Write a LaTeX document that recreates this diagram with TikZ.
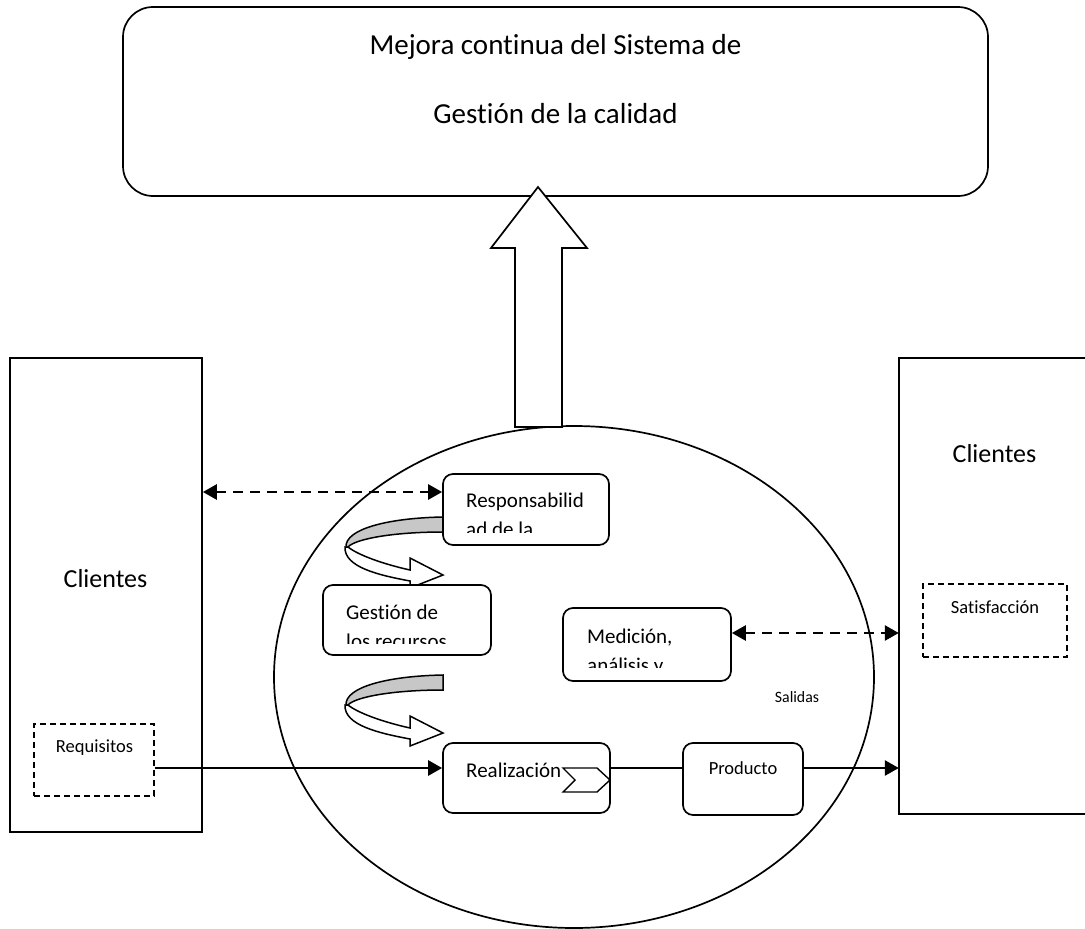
\documentclass[tikz,border=0pt]{standalone}
\usepackage{fontspec}
\setmainfont{Carlito}[Ligatures=NoCommon]
\usetikzlibrary{arrows.meta,shapes.geometric,calc}
\begin{document}
\begin{tikzpicture}[x=1pt,y=-1pt,
  frame/.style={draw, line width=1.7pt, fill=white, inner sep=0pt},
  rbox/.style={frame, rounded corners=10pt},
  dbox/.style={draw, line width=1.7pt, dash pattern=on 6pt off 4pt, inner sep=0pt},
  lbl/.style={inner sep=0pt, anchor=base},
  lblw/.style={inner sep=0pt, anchor=base west},
  bigtext/.style={font=\fontsize{29}{35}\selectfont},
  midtext/.style={font=\fontsize{26}{31}\selectfont},
  boxtext/.style={font=\fontsize{21}{25}\selectfont},
  smalltext/.style={font=\fontsize{18.5}{22}\selectfont},
  tinytext/.style={font=\fontsize{15.8}{19}\selectfont},
  dconn/.style={line width=2.6pt, dash pattern=on 10pt off 7pt, {Triangle[length=14pt,width=15pt]}-{Triangle[length=14pt,width=15pt]}},
  sconn/.style={line width=2.6pt, -{Triangle[length=14pt,width=15pt]}},
  uturn/.pic={
    % back of the ribbon (grey) and front with the arrow head (white)
    \draw[line width=1.5pt, fill=black!22]
      (0,0) .. controls (-55,1) and (-98,12) .. (-97,30) -- (-95,30)
      .. controls (-88,22) and (-50,15) .. (0,15) -- cycle;
    \draw[line width=1.5pt, fill=white, line join=miter]
      (-95,30) .. controls (-85,38) and (-60,47) .. (-33,53) -- (-33,41)
      -- (0,58) -- (-33,71) -- (-33,64)
      .. controls (-65,58) and (-99,50) .. (-98,30) -- cycle;
  }
]
\useasboundingbox (0,0) rectangle (1085,929);

% process ellipse
\node[ellipse, draw, line width=1.7pt, minimum width=600pt, minimum height=502pt, inner sep=0pt] (proc) at (574,677) {};

% improvement box
\node[frame, rounded corners=30pt, minimum width=865pt, minimum height=189pt] (mejora) at (555.5,101.5) {};
\node[lbl, bigtext] (mejora1) at (555.5,54) {Mejora continua del Sistema de};
\node[lbl, bigtext] (mejora2) at (555.5,123) {Gestión de la calidad};

% upward block arrow
\draw[line width=1.7pt, fill=white, line join=miter]
  (515,427) -- (515,248) -- (491,248) -- (538,187) -- (587,248) -- (562,248) -- (562,427) -- cycle;

% customers (input side)
\node[frame, minimum width=192pt, minimum height=474pt] (cliL) at (106,595) {};
\node[lbl, midtext] (cliLt) at (105.5,587) {Clientes};
\node[dbox, minimum width=120pt, minimum height=72pt] (req) at (94,760) {};
\node[lbl, smalltext] (reqt) at (94.5,752) {Requisitos};

% customers (output side), open to the right
\node[inner sep=0pt, minimum width=191pt, minimum height=456pt] (cliR) at (994.5,586) {};
\draw[line width=1.7pt] (cliR.north east) -- (cliR.north west) -- (cliR.south west) -- (cliR.south east);
\node[lbl, midtext] (cliRt) at (994.5,462) {Clientes};
\node[dbox, minimum width=144pt, minimum height=73pt] (sat) at (995,620.5) {};
\node[lbl, smalltext] (satt) at (995,613) {Satisfacción};

% ribbon arrows
\pic at (443,517) {uturn};
\pic at (443,675) {uturn};

% process boxes
\node[rbox, minimum width=166pt, minimum height=71pt] (resp) at (526,509.5) {};
\begin{scope}
  \clip (443,474) rectangle (609,532.5);
  \node[lblw, boxtext] (resp1) at (466,507) {Responsabilid};
  \node[lblw, boxtext] (resp2) at (466,536) {ad de la};
\end{scope}

\node[rbox, minimum width=168pt, minimum height=70pt] (gest) at (407,620) {};
\begin{scope}
  \clip (323,585) rectangle (491,643.5);
  \node[lblw, boxtext] (gest1) at (346,619) {Gestión de};
  \node[lblw, boxtext] (gest2) at (346,648) {los recursos};
\end{scope}

\node[rbox, minimum width=168pt, minimum height=73pt] (med) at (647,644.5) {};
\begin{scope}
  \clip (563,608) rectangle (731,667);
  \node[lblw, boxtext] (med1) at (587,643) {Medición,};
  \node[lblw, boxtext] (med2) at (587,672.5) {análisis y};
\end{scope}

\node[rbox, minimum width=167pt, minimum height=70pt] (real) at (526.5,778) {};
\node[lblw, boxtext] (realt) at (466,777) {Realización};
\draw[line width=1.4pt, fill=white, line join=miter]
  (563,768) -- (597,768) -- (610,780) -- (597,792) -- (563,792) -- (575,780) -- cycle;

\node[rbox, minimum width=120pt, minimum height=72pt] (prod) at (743,779) {};
\node[lbl, smalltext] (prodt) at (743,774) {Producto};

\node[lbl, tinytext] (sal) at (797,702) {Salidas};

% connectors
\coordinate (d1) at ($(resp.west)+(0,-17.5)$);
\draw[dconn] (cliL.east |- d1) -- (d1);
\coordinate (d2) at ($(med.east)+(0,-11.5)$);
\draw[dconn] (d2) -- (cliR.west |- d2);

\coordinate (s1) at ($(req.east)+(0,8)$);
\draw[sconn] (s1) -- (real.west |- s1);
\draw[line width=1.2pt] (real.east |- s1) -- (prod.west |- s1);
\draw[sconn] (prod.east |- s1) -- (cliR.west |- s1);
\end{tikzpicture}
\end{document}
